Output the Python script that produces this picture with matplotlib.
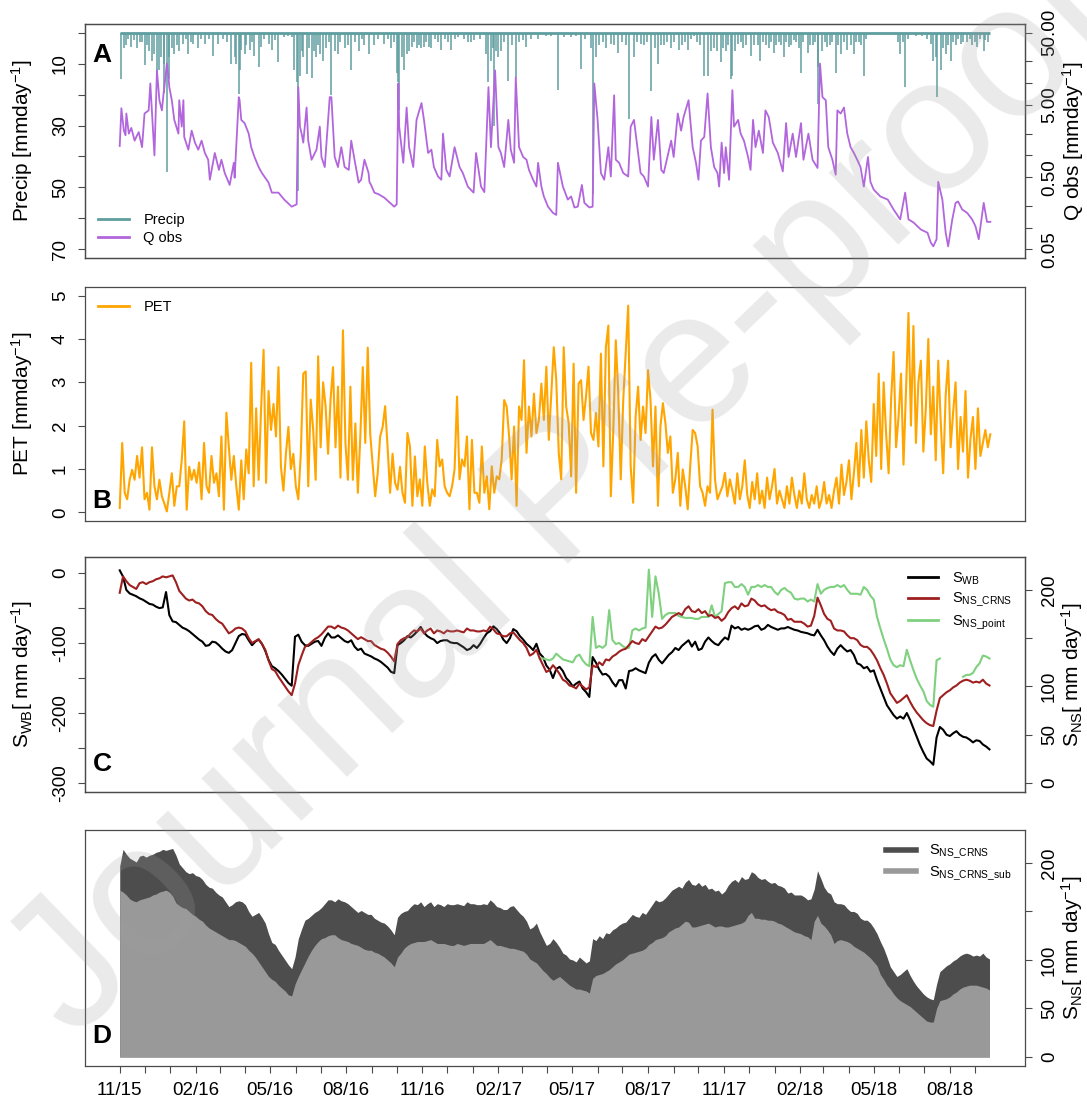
import numpy as np
import matplotlib
matplotlib.use('Agg')
import matplotlib.pyplot as plt
from matplotlib.lines import Line2D
from matplotlib.ticker import NullLocator

plt.rcParams['font.family'] = ['Liberation Sans', 'DejaVu Sans']
plt.rcParams['mathtext.fontset'] = 'custom'
plt.rcParams['mathtext.rm'] = 'Liberation Sans'
plt.rcParams['mathtext.it'] = 'Liberation Sans:italic'
plt.rcParams['mathtext.bf'] = 'Liberation Sans:bold'

# ── Data (days counted from 2015-11-01) ───────────────────────────────────────
start = np.datetime64('2015-11-01')

# precipitation events [mm/day]
p_day = [2, 5, 7, 10, 14, 17, 21, 24, 27, 30,
         33, 35, 39, 42, 45, 47, 50, 53, 54, 57,
         59, 60, 63, 66, 69, 72, 77, 80, 83, 86,
         89, 95, 98, 103, 108, 113, 119, 125, 130, 135,
         139, 141, 144, 145, 147, 151, 153, 157, 160, 163,
         168, 171, 174, 180, 184, 188, 192, 199, 203, 208,
         211, 214, 216, 218, 220, 222, 226, 229, 232, 235,
         238, 240, 242, 246, 250, 253, 256, 260, 264, 267,
         272, 276, 280, 284, 289, 293, 296, 301, 308, 312,
         320, 324, 328, 332, 335, 336, 338, 341, 344, 347,
         350, 353, 356, 359, 362, 365, 368, 371, 374, 377,
         381, 385, 389, 393, 397, 401, 405, 409, 416, 421,
         425, 429, 436, 443, 446, 449, 451, 453, 455, 458,
         461, 465, 470, 474, 479, 483, 488, 492, 498, 506,
         515, 522, 530, 537, 546, 552, 558, 563, 570, 572,
         576, 580, 584, 588, 594, 598, 603, 608, 612, 616,
         622, 626, 630, 634, 638, 643, 647, 651, 655, 658,
         662, 667, 671, 676, 680, 684, 687, 691, 694, 698,
         702, 707, 711, 715, 719, 723, 727, 730, 733, 736,
         739, 741, 744, 748, 751, 754, 758, 763, 767, 772,
         775, 778, 782, 785, 788, 791, 794, 797, 800, 803,
         806, 809, 812, 815, 818, 821, 824, 827, 832, 835,
         838, 841, 844, 845, 850, 853, 856, 859, 862, 866,
         869, 872, 876, 880, 884, 888, 891, 894, 897, 900,
         903, 912, 929, 941, 944, 947, 950, 953, 963, 970,
         977, 981, 984, 987, 989, 993, 996, 999, 1002, 1005,
         1008, 1011, 1014, 1017, 1020, 1025, 1028, 1031, 1034, 1037,
         1041, 1045, 1047, 1050]
p_mm = [15, 5, 4, 2, 4.5, 2.5, 5, 3, 3, 10.6,
        4, 6, 9, 7, 14.5, 12, 8, 10, 19.5, 45,
        15, 8, 5, 7, 4, 6, 3.5, 2, 7, 3,
        3.5, 5, 2, 3.5, 2, 7.5, 3.5, 2, 3, 10,
        8, 10, 19.7, 12, 5.5, 7, 4, 5.5, 3, 7.5,
        11, 4.5, 2, 3.5, 5.5, 2.5, 9.5, 1.5, 1, 1.5,
        12, 16, 51, 14, 6, 8, 13.5, 5, 14.5, 6,
        8, 4, 7, 9, 5, 3, 20, 6, 7, 3,
        5, 4, 12, 3, 6, 2, 4, 7, 4, 2,
        3.5, 2, 5, 3, 13, 16, 25, 8, 12, 7,
        6, 4.5, 3, 5, 4, 5, 4.5, 3, 4.5, 5,
        2, 3, 5.5, 2, 3, 5.5, 2, 1.5, 2, 3,
        3, 2.5, 2, 7, 15.9, 9, 5, 30, 6, 8,
        6, 3, 15.7, 4, 14.6, 3, 2.5, 4.5, 2, 2,
        1, 1, 18.6, 1.5, 1.5, 1, 11.7, 2, 5, 52,
        8, 4, 3, 5, 3.5, 4, 6.5, 3, 4, 28,
        8, 3, 3.5, 4, 3, 19, 5, 10, 4, 4,
        3, 5, 3, 5.5, 4, 3, 5.5, 2, 1, 3,
        4, 14, 14, 6, 5, 6, 9.4, 5, 6, 4,
        15, 14, 6, 3.5, 3, 5, 4, 7.5, 4, 4,
        9, 3, 4, 5, 3, 6.5, 4, 3, 4, 8,
        3, 4.5, 4, 2.5, 3, 5, 13, 3, 6.7, 4,
        4, 3, 11, 23, 6, 3, 4.5, 4, 3, 13,
        4, 6.8, 3, 5.5, 4, 6.8, 3, 3, 4, 14,
        2, 0.5, 0.5, 3, 7, 3, 17.6, 2, 1, 1,
        2, 3.5, 9, 8, 20.8, 12, 5, 7, 4, 9,
        3, 4, 2, 3.5, 3, 3, 2, 4, 3, 4.5,
        2, 6, 2.5, 3]

# observed discharge [mm/day]
q_day = [0, 2, 5, 7, 8, 11, 14, 18, 21, 23,
         27, 30, 35, 37, 41, 42, 45, 47, 48, 51,
         53, 54, 57, 59, 60, 63, 66, 71, 72, 75,
         77, 78, 83, 87, 91, 95, 99, 103, 107, 109,
         115, 120, 123, 127, 133, 138, 139, 144, 145, 147,
         151, 156, 159, 163, 168, 172, 180, 184, 192, 199,
         208, 214, 216, 218, 220, 222, 226, 228, 232, 238,
         242, 244, 248, 254, 256, 260, 264, 268, 272, 277,
         280, 284, 289, 292, 296, 301, 302, 304, 308, 313,
         320, 328, 332, 335, 337, 338, 343, 347, 350, 355,
         359, 365, 368, 373, 377, 380, 385, 389, 391, 395,
         399, 405, 411, 415, 421, 428, 431, 437, 441, 446,
         449, 454, 458, 461, 465, 470, 473, 477, 479, 483,
         488, 492, 495, 500, 504, 506, 510, 513, 518, 524,
         528, 530, 536, 542, 546, 550, 554, 559, 562, 568,
         572, 574, 578, 582, 586, 591, 594, 598, 600, 604,
         609, 615, 618, 622, 627, 630, 634, 639, 643, 646,
         651, 655, 658, 667, 670, 675, 679, 682, 688, 693,
         697, 700, 703, 707, 711, 715, 719, 723, 725, 728,
         731, 733, 737, 741, 743, 748, 751, 755, 760, 763,
         766, 769, 773, 778, 781, 785, 790, 796, 802, 806,
         809, 814, 818, 824, 827, 833, 838, 844, 847, 850,
         854, 857, 862, 866, 868, 872, 876, 880, 884, 888,
         892, 896, 900, 905, 908, 912, 920, 929, 936, 944,
         950, 954, 960, 969, 977, 981, 984, 988, 990, 995,
         999, 1002, 1007, 1011, 1014, 1019, 1025, 1031, 1035, 1039,
         1045, 1049, 1053]
q_obs = [1.35, 4.5, 2.2, 1.9, 3.8, 2.0, 2.4, 1.6, 1.9, 2.1,
         1.3, 3.8, 4.2, 9.9, 1.6, 1.0, 15, 8.0, 5.8, 4.2,
         7.2, 8.8, 18.7, 12, 8.8, 5.8, 3.1, 2.0, 5.8, 2.5,
         5.8, 1.8, 1.2, 2.2, 1.5, 1.2, 1.6, 1.08, 0.87, 0.46,
         1.08, 0.63, 0.87, 0.57, 0.39, 0.79, 0.49, 6.4, 5.8, 3.1,
         2.8, 2.0, 1.3, 0.95, 0.69, 0.57, 0.42, 0.305, 0.305, 0.244,
         0.195, 0.21, 8.8, 2.5, 2.0, 1.5, 4.6, 1.6, 0.87, 1.2,
         2.5, 0.95, 0.69, 6.4, 6.4, 0.95, 0.69, 1.3, 0.69, 0.63,
         1.6, 0.87, 0.42, 0.46, 0.87, 0.57, 0.43, 0.39, 0.305, 0.29,
         0.26, 0.215, 0.195, 0.21, 9.9, 2.5, 0.79, 4.6, 1.3, 0.69,
         3.1, 5.3, 3.1, 1.08, 1.2, 0.69, 0.51, 0.46, 2.0, 0.63,
         0.51, 1.3, 0.69, 0.57, 0.37, 0.305, 1.08, 0.37, 0.31, 8.8,
         1.3, 15, 1.3, 1.08, 0.69, 3.1, 1.2, 0.79, 12, 1.3,
         0.95, 0.87, 0.63, 0.46, 0.37, 0.79, 0.37, 0.27, 0.195, 0.16,
         0.15, 0.79, 0.37, 0.244, 0.27, 0.19, 0.195, 0.39, 0.22, 0.19,
         0.195, 9.9, 3.1, 0.57, 0.46, 1.3, 0.51, 6.8, 0.87, 0.79,
         0.57, 0.51, 2.5, 3.1, 1.08, 0.57, 0.51, 0.37, 3.4, 0.87,
         3.1, 0.63, 0.57, 1.6, 0.95, 3.8, 2.2, 3.4, 5.8, 1.3,
         0.79, 0.46, 1.6, 1.8, 7.2, 1.3, 0.69, 0.57, 0.37, 1.5,
         0.57, 1.3, 0.46, 8.0, 2.5, 3.1, 2.0, 1.6, 0.95, 0.63,
         3.1, 1.3, 2.2, 1.08, 4.2, 3.4, 1.5, 1.08, 0.6, 2.8,
         0.95, 2.0, 0.95, 2.8, 0.87, 2.0, 0.87, 0.67, 18.7, 6.4,
         5.8, 1.3, 0.87, 0.54, 4.2, 3.8, 4.6, 2.0, 1.3, 1.08,
         0.87, 0.69, 0.37, 0.95, 0.43, 0.335, 0.27, 0.244, 0.178, 0.13,
         0.305, 0.13, 0.118, 0.094, 0.085, 0.062, 0.055, 0.069, 0.43, 0.244,
         0.085, 0.055, 0.13, 0.22, 0.23, 0.178, 0.16, 0.13, 0.105, 0.069,
         0.22, 0.12, 0.12]

# potential evapotranspiration, every 3 days [mm/day]
pet = [0.1, 1.6, 0.45, 0.3, 0.75, 0.98, 0.75, 1.3, 0.8, 1.5,
       0.3, 0.45, 0.06, 1.5, 0.6, 0.3, 0.75, 0.37, 0.2, 0.02,
       0.45, 0.9, 0.15, 0.6, 0.6, 1.2, 2.1, 0.06, 1.05, 0.75,
       0.98, 0.68, 1.15, 0.3, 1.6, 0.6, 0.45, 1.3, 0.68, 0.9,
       0.37, 1.75, 0.06, 2.3, 1.5, 0.75, 1.3, 0.6, 0.06, 1.2,
       0.3, 1.45, 0.9, 3.45, 0.6, 2.4, 0.75, 2.4, 3.75, 0.68,
       2.8, 1.9, 2.5, 1.75, 3.35, 1.05, 0.5, 1.35, 1.97, 1.0,
       1.35, 0.6, 0.3, 1.35, 3.2, 3.25, 0.6, 2.6, 1.9, 0.75,
       3.6, 1.5, 3.0, 2.45, 1.35, 2.6, 3.35, 1.5, 2.9, 0.8,
       4.2, 1.6, 0.75, 2.9, 0.75, 2.05, 0.45, 1.75, 3.35, 1.6,
       3.8, 1.8, 1.1, 0.37, 0.9, 1.75, 1.97, 2.45, 1.5, 0.45,
       1.35, 0.68, 0.52, 1.05,
       0.45, 0.22, 1.83, 1.52, 0.15, 1.29, 0.37, 0.76, 0.15, 1.52,
       0.68, 0.15, 0.53, 0.37, 1.67, 1.06, 1.22, 0.6, 0.45, 0.37,
       0.6, 0.99, 2.67, 0.76, 1.22, 1.06, 1.75, 0.07, 1.67, 0.45,
       0.45, 0.22, 1.52, 0.45, 0.83, 0.07, 1.06, 0.45, 0.83, 0.76,
       1.22, 2.59, 2.44, 1.75, 0.76, 1.98, 0.15, 2.44, 2.13, 3.51,
       1.37, 2.44, 1.75, 2.74, 1.83, 2.13, 2.97, 2.13, 3.36, 1.67,
       2.74, 3.81, 3.05, 1.37, 0.76, 3.81, 2.44, 2.06, 0.83, 3.43,
       0.45, 2.97, 3.05, 2.13, 2.67, 3.36, 1.83, 1.67, 2.29, 1.52,
       3.66, 1.06, 3.81, 4.31, 0.37, 1.9, 3.97, 2.74, 0.76, 2.59,
       3.66, 4.77, 1.06, 0.22, 2.21, 2.9, 1.67, 2.44, 1.83, 3.28,
       2.59, 1.06, 2.44, 0.15, 1.98, 2.52, 2.06, 1.37, 1.75, 0.45,
       0.76, 1.37, 0.15, 0.99, 0.6, 0.07, 1.06, 1.9, 1.83, 1.52,
       0.6, 0.45, 0.15, 0.6, 0.45, 2.37, 0.76, 0.3, 0.45, 0.6,
       0.91, 0.37, 0.76,
       0.5, 0.2, 0.9, 0.3, 0.6, 1.2, 0.4, 0.1, 0.7, 0.3,
       0.9, 0.2, 0.5, 0.1, 0.8, 0.3, 0.6, 1.0, 0.2, 0.5,
       0.3, 0.1, 0.6, 0.2, 0.8, 0.4, 0.1, 0.5, 0.2, 0.9,
       0.3, 0.1, 0.4, 0.2, 0.6, 0.1, 0.3, 0.7, 0.2, 0.4,
       0.1, 0.5, 0.8, 0.2, 1.1, 0.4, 0.7, 1.2, 0.3, 0.9,
       1.6, 0.6, 1.9, 0.8, 2.1, 1.2, 0.7, 2.5, 1.3, 3.2,
       1.0, 3.0, 1.8, 0.9, 2.6, 3.7, 1.5, 2.2, 3.2, 1.1,
       2.8, 4.6, 2.0, 4.3, 1.6, 3.0, 3.5, 1.4, 2.4, 4.0,
       1.8, 2.9, 1.2, 3.5, 2.1, 0.9, 2.7, 3.5, 1.5, 2.3,
       3.0, 1.0, 2.2, 1.4, 2.8, 0.8, 1.7, 2.2, 1.0, 2.4,
       1.3, 1.6, 1.9, 1.5, 1.8]

# storages, every 4 days [mm]
s_wb = [4, -5, -24, -29, -31, -33, -36, -38, -41, -44,
        -45, -48, -50, -49, -27, -60, -69, -70, -74, -78,
        -80, -83, -87, -91, -95, -98, -104, -103, -98, -99,
        -103, -108, -112, -114, -110, -100, -90, -87, -88, -96,
        -103, -98, -95, -101, -111, -124, -133, -136, -140, -145,
        -151, -157, -161, -91, -88, -98, -103, -104, -101, -98,
        -97, -104, -93, -86, -92, -92, -89, -93, -97, -99,
        -96, -105, -110, -108, -115, -117, -119, -122, -124, -127,
        -131, -135, -141, -143, -103, -100, -96, -90, -92, -88,
        -83, -77, -85, -90, -93, -95, -100, -97, -96, -96,
        -99, -100, -100, -103, -106, -110, -108, -103, -107, -101,
        -93, -86, -83, -76, -80, -86, -95, -100, -93, -80,
        -83, -90, -95, -101, -105, -110, -101, -115, -120, -132,
        -138, -150, -137, -134, -140, -150, -155, -162, -158, -155,
        -165, -170, -177, -120, -128, -138, -145, -144, -148, -156,
        -162, -153, -153, -165, -140, -139, -136, -139, -141, -143,
        -128, -120, -116, -124, -129, -123, -117, -113, -107, -110,
        -104, -100, -96, -105, -98, -110, -108, -98, -92, -97,
        -101, -103, -97, -92, -95, -75, -79, -77, -81, -79,
        -81, -79, -76, -75, -81, -79, -74, -77, -79, -81,
        -79, -79, -77, -79, -81, -82, -84, -85, -86, -88,
        -89, -81, -89, -96, -105, -112, -117, -108, -103, -108,
        -112, -110, -117, -129, -131, -136, -134, -141, -139, -153,
        -165, -177, -189, -196, -203, -208, -205, -208, -200, -210,
        -222, -234, -246, -256, -265, -269, -274, -235, -220, -224,
        -231, -233, -229, -226, -231, -234, -235, -238, -242, -239,
        -240, -245, -248, -252]

s_ns_crns = [197, 214, 209, 205, 203, 201, 207, 208, 206, 208,
             209, 211, 212, 214, 213, 214, 215, 208, 199, 195,
             191, 189, 190, 187, 186, 183, 178, 175, 174, 170,
             167, 165, 160, 155, 157, 160, 161, 160, 157, 150,
             145, 147, 149, 144, 138, 127, 118, 116, 110, 105,
             100, 95, 91, 103, 122, 132, 141, 143, 146, 149,
             151, 154, 158, 162, 162, 160, 163, 161, 160, 158,
             155, 152, 149, 151, 149, 147, 147, 143, 141, 139,
             138, 135, 131, 126, 144, 148, 150, 151, 155, 158,
             157, 160, 155, 158, 160, 155, 158, 157, 155, 158,
             157, 157, 158, 157, 156, 160, 158, 158, 157, 157,
             158, 157, 162, 159, 155, 154, 152, 152, 155, 156,
             152, 148, 145, 140, 132, 134, 138, 129, 122, 115,
             117, 122, 118, 113, 107, 105, 101, 100, 98, 103,
             100, 97, 99, 122, 120, 125, 122, 128, 127, 131,
             133, 136, 138, 139, 143, 147, 145, 144, 149, 147,
             152, 157, 162, 160, 161, 164, 168, 172, 174, 176,
             174, 180, 183, 178, 177, 180, 176, 178, 173, 174,
             171, 172, 168, 171, 177, 181, 183, 180, 186, 183,
             184, 191, 189, 185, 183, 184, 181, 179, 180, 177,
             176, 174, 169, 170, 167, 167, 167, 165, 162, 163,
             173, 192, 184, 175, 170, 168, 160, 158, 158, 157,
             153, 150, 150, 148, 143, 141, 141, 138, 133, 127,
             119, 112, 103, 93, 88, 83, 85, 88, 91, 84,
             78, 73, 69, 65, 62, 60, 59, 75, 88, 91,
             94, 96, 99, 101, 104, 106, 107, 106, 104, 105,
             104, 107, 103, 101]

nan = np.nan
s_ns_point = [nan] * 127 + [
    129, 129, 128, 127, 129, 134, 131, 128, 127, 126,
    125, 131, 133, 127, 123, 121, 172, 140, 142, 140,
    143, 179, 148, 144, 145, 142, 140, 140, 158, 160,
    158, 160, 161, 221, 172, 214, 196, 170, 174, 176,
    176, 176, 173, 172, 171, 171, 171, 170, 170, 172,
    172, 172, 184, 172, 175, 178, 207, 208, 208, 203,
    203, 206, 203, 195, 203, 203, 205, 203, 205, 203,
    203, 198, 195, 200, 202, 199, 197, 191, 190, 191,
    191, 188, 190, 188, 206, 196, 200, 202, 203, 203,
    205, 203, 205, 200, 196, 196, 196, 195, 203, 200,
    194, 190, 172, 160, 149, 139, 128, 122, 120, 122,
    121, 138, 127, 117, 108, 101, 95, 85, 81, 79,
    127, 129, nan, nan, nan, nan, nan, nan,
    110, 112, 112, 114, 120, 124, 132, 131, 129]

s_ns_crns_sub = [172, 170, 167, 163, 161, 160, 162, 163, 164, 165,
                 167, 168, 170, 171, 172, 170, 166, 159, 156, 154,
                 153, 150, 147, 145, 142, 140, 136, 133, 131, 129,
                 127, 125, 123, 121, 121, 120, 118, 116, 114, 110,
                 107, 103, 98, 93, 88, 83, 80, 78, 74, 71,
                 68, 64, 63, 75, 83, 90, 97, 104, 110, 115,
                 119, 122, 123, 125, 126, 126, 123, 121, 120, 119,
                 117, 116, 115, 113, 111, 110, 110, 108, 107, 105,
                 103, 100, 97, 93, 103, 107, 112, 115, 117, 118,
                 119, 119, 119, 120, 121, 119, 117, 117, 117, 116,
                 115, 115, 117, 116, 115, 116, 117, 117, 117, 117,
                 117, 119, 121, 118, 115, 115, 114, 113, 112, 112,
                 111, 110, 109, 106, 101, 99, 97, 93, 89, 86,
                 82, 79, 81, 83, 80, 77, 74, 72, 70, 70,
                 69, 68, 66, 81, 84, 85, 86, 88, 90, 93,
                 96, 98, 100, 103, 106, 107, 108, 109, 110, 112,
                 116, 118, 121, 122, 123, 125, 129, 131, 133, 134,
                 137, 140, 139, 134, 134, 135, 136, 137, 138, 136,
                 134, 135, 135, 134, 134, 135, 136, 137, 138, 140,
                 146, 149, 143, 143, 142, 142, 141, 141, 140, 138,
                 137, 135, 133, 131, 129, 128, 127, 125, 124, 121,
                 140, 146, 138, 135, 131, 126, 117, 120, 121, 120,
                 119, 117, 114, 112, 110, 108, 105, 102, 98, 94,
                 85, 80, 74, 70, 65, 61, 58, 56, 54, 52,
                 49, 46, 43, 40, 37, 36, 36, 50, 58, 59,
                 60, 62, 65, 67, 70, 72, 73, 74, 74, 74,
                 73, 72, 71, 69]

# ── Dates ─────────────────────────────────────────────────────────────────────
p_dates = start + np.array(p_day).astype('timedelta64[D]')
q_dates = start + np.array(q_day).astype('timedelta64[D]')
pet_dates = start + (np.arange(len(pet)) * 3).astype('timedelta64[D]')
s_dates = start + (np.arange(len(s_wb)) * 4).astype('timedelta64[D]')

span = q_dates[-1] - q_dates[0]
pad = (span * 0.04).astype('timedelta64[D]')
xlim = (q_dates[0] - pad, q_dates[-1] + pad)

months = np.arange(np.datetime64('2015-11'), np.datetime64('2018-10'),
                   dtype='datetime64[M]').astype('datetime64[D]')
month_labels = [m.item().strftime('%m/%y') if m.item().month in (2, 5, 8, 11) else ''
                for m in months]

# ── Styling helpers ───────────────────────────────────────────────────────────
EDGE = '#4a4a4a'
TICK_FS = 13.5
LAB_FS = 15


def frame(ax):
    for s in ax.spines.values():
        s.set_color(EDGE)
        s.set_linewidth(0.9)
    ax.tick_params(colors=EDGE, labelcolor='black', length=5, width=0.8,
                   labelsize=TICK_FS, pad=6.5)
    ax.set_xlim(*xlim)


def yticks(ax, ticks, labels):
    ax.set_yticks(ticks, labels, rotation=90, va='center')
    ax.yaxis.set_minor_locator(NullLocator())


def letter(ax, s, y, va):
    ax.text(0.008, y, s, transform=ax.transAxes, fontsize=19, fontweight='bold',
            va=va, ha='left')


fig = plt.figure(figsize=(10.87, 10.97), dpi=100)
L, W = 0.0782, 0.8648
axA = fig.add_axes([L, 0.7648, W, 0.2133])
axB = fig.add_axes([L, 0.5251, W, 0.2133])
axC = fig.add_axes([L, 0.2780, W, 0.2142])
axD = fig.add_axes([L, 0.0283, W, 0.2151])

# ── A: precipitation and discharge ────────────────────────────────────────────
c_p, c_q = '#5f9ea0', '#b266dd'
frame(axA)
axA.vlines(p_dates, 0, p_mm, color=c_p, lw=1.1)
axA.hlines(0, q_dates[0], q_dates[-1], color=c_p, lw=2)
axA.set_ylim(72.8, -2.8)
yticks(axA, range(0, 71, 10), ['', '10', '', '30', '', '50', '', '70'])
axA.set_xticks([])
axA.set_ylabel('Precip [mmday$^{-1}$]', fontsize=LAB_FS)
axA.yaxis.set_label_coords(-0.053, 0.5)

axA2 = axA.twinx()
frame(axA2)
axA2.plot(q_dates, q_obs, color=c_q, lw=1.3)
axA2.set_yscale('log')
axA2.set_ylim(10 ** -1.421, 10 ** 1.819)
yticks(axA2, [0.05, 0.1, 0.2, 0.5, 1, 2, 5, 10, 20, 50],
       ['0.05', '', '', '0.50', '', '', '5.00', '', '', '50.00'])
axA2.set_xticks([])
axA2.set_ylabel('Q obs [mmday$^{-1}$]', fontsize=LAB_FS)
axA2.yaxis.set_label_coords(1.037, 0.5)
axA2.legend([Line2D([], [], color=c_p, lw=2), Line2D([], [], color=c_q, lw=2)],
            ['Precip', 'Q obs'], loc='lower left', bbox_to_anchor=(0.0, 0.0),
            frameon=False, fontsize=10.5, handlelength=2.1, handletextpad=1.0,
            labelspacing=0.25)
letter(axA, 'A', 0.92, 'top')

# ── B: PET ────────────────────────────────────────────────────────────────────
frame(axB)
axB.plot(pet_dates, pet, color='orange', lw=1.5)
axB.set_ylim(-0.2, 5.2)
yticks(axB, range(0, 6), [str(v) for v in range(0, 6)])
axB.set_xticks([])
axB.set_ylabel('PET [mmday$^{-1}$]', fontsize=LAB_FS)
axB.yaxis.set_label_coords(-0.053, 0.5)
axB.legend([Line2D([], [], color='orange', lw=2)], ['PET'], loc='upper left',
           frameon=False, fontsize=10.5, handlelength=2.1, handletextpad=1.0)
letter(axB, 'B', 0.035, 'bottom')

# ── C: storages ───────────────────────────────────────────────────────────────
c_crns, c_pt = '#9e1f1f', '#7fd07f'
frame(axC)
axC.plot(s_dates, s_wb, color='black', lw=1.5)
axC.set_ylim(-313, 23)
yticks(axC, range(-300, 1, 50), ['-300', '', '-200', '', '-100', '', '0'])
axC.set_xticks([])
axC.set_ylabel(r'S$_{\mathrm{WB}}$[ mm day$^{-1}$]', fontsize=LAB_FS)
axC.yaxis.set_label_coords(-0.053, 0.5)

axC2 = axC.twinx()
frame(axC2)
axC2.plot(s_dates, s_ns_point, color=c_pt, lw=1.5)
axC2.plot(s_dates, s_ns_crns, color=c_crns, lw=1.5)
axC2.set_ylim(-9.3, 234)
yticks(axC2, range(0, 201, 50), ['0', '50', '100', '', '200'])
axC2.set_xticks([])
axC2.set_ylabel(r'S$_{\mathrm{NS}}$[ mm day$^{-1}$]', fontsize=LAB_FS)
axC2.yaxis.set_label_coords(1.036, 0.5)
axC2.legend([Line2D([], [], color='black', lw=2), Line2D([], [], color=c_crns, lw=2),
             Line2D([], [], color=c_pt, lw=2)],
            [r'S$_{\mathrm{WB}}$', r'S$_{\mathrm{NS\_CRNS}}$', r'S$_{\mathrm{NS\_point}}$'],
            loc='upper right', frameon=False, fontsize=10.5, handlelength=2.1,
            handletextpad=0.9, labelspacing=0.3)
letter(axC, 'C', 0.07, 'bottom')

# ── D: CRNS storage and its subsurface part ───────────────────────────────────
c_dark, c_light = '#4d4d4d', '#999999'
frame(axD)
axD.fill_between(s_dates, 0, s_ns_crns, color=c_dark, lw=0)
axD.fill_between(s_dates, 0, s_ns_crns_sub, color=c_light, lw=0)
axD.set_ylim(-9.3, 234)
axD.yaxis.tick_right()
axD.yaxis.set_label_position('right')
yticks(axD, range(0, 201, 50), ['0', '50', '100', '', '200'])
axD.set_ylabel(r'S$_{\mathrm{NS}}$[ mm day$^{-1}$]', fontsize=LAB_FS)
axD.yaxis.set_label_coords(1.036, 0.5)
axD.set_xticks(months, month_labels)
axD.legend([Line2D([], [], color=c_dark, lw=4), Line2D([], [], color=c_light, lw=4)],
           [r'S$_{\mathrm{NS\_CRNS}}$', r'S$_{\mathrm{NS\_CRNS\_sub}}$'],
           loc='upper right', frameon=False, fontsize=10.5, handlelength=2.1,
           handletextpad=0.9, labelspacing=0.25)
letter(axD, 'D', 0.075, 'bottom')

# ── Watermark ─────────────────────────────────────────────────────────────────
fig.text(0.52, 0.545, 'Journal Pre-proof', rotation=44, ha='center', va='center',
         fontsize=136, color='#9e9e9e', alpha=0.22, zorder=10)

fig.savefig('out.png', dpi=100)
